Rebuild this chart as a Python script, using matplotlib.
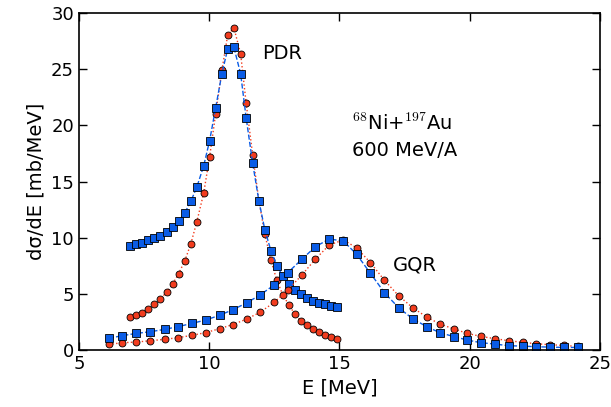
import matplotlib
matplotlib.use("Agg")
import matplotlib.pyplot as plt
plt.rcParams['mathtext.fontset'] = 'cm'

pdr_x = [6.96,7.18,7.41,7.66,7.89,8.12,8.37,8.60,8.83,9.07,9.30,9.53,9.79,10.02,10.25,10.49,10.71,10.95,11.21,11.42,11.67,11.91,12.14,12.37,12.60,12.83,13.07,13.29,13.52,13.76,13.99,14.22,14.45,14.68,14.91]
pdr_blue = [9.26,9.41,9.56,9.77,9.97,10.18,10.48,10.95,11.46,12.23,13.24,14.52,16.38,18.64,21.55,24.6,26.78,26.96,24.58,20.69,16.65,13.27,10.69,8.85,7.51,6.56,5.88,5.37,4.99,4.66,4.39,4.21,4.07,3.95,3.86]
pdr_red = [2.94,3.09,3.30,3.62,4.10,4.54,5.14,5.87,6.80,7.95,9.47,11.43,13.95,17.2,21.0,24.9,28.0,28.7,26.36,22.0,17.4,13.3,10.3,8.0,6.2,4.9,3.98,3.2,2.61,2.22,1.84,1.6,1.36,1.16,0.95]

gqr_x = [6.15,6.67,7.21,7.75,8.29,8.81,9.34,9.87,10.40,10.91,11.44,11.97,12.50,13.02,13.56,14.08,14.61,15.15,15.66,16.19,16.73,17.27,17.81,18.35,18.86,19.40,19.91,20.43,20.97,21.50,22.04,22.55,23.09,23.60,24.14]
gqr_blue = [1.04,1.28,1.48,1.63,1.84,2.08,2.37,2.67,3.09,3.59,4.19,4.93,5.79,6.89,8.08,9.2,9.88,9.71,8.52,6.83,5.1,3.77,2.79,2.08,1.54,1.19,0.89,0.65,0.53,0.38,0.35,0.29,0.26,0.23,0.23]
gqr_red = [0.5,0.65,0.71,0.83,0.95,1.1,1.31,1.55,1.9,2.27,2.75,3.38,4.25,5.34,6.68,8.1,9.35,9.8,9.1,7.78,6.2,4.84,3.77,2.94,2.31,1.87,1.48,1.21,1.01,0.83,0.68,0.56,0.47,0.41,0.32]

blue = "#0a5ce6"
red = "#f23c1e"

fig = plt.figure(figsize=(6.11, 4.07), dpi=100)
ax = fig.add_axes([0.129, 0.14, 0.853, 0.828])

for x, yb, yr in [(pdr_x, pdr_blue, pdr_red), (gqr_x, gqr_blue, gqr_red)]:
    ax.plot(x, yr, linestyle=":", color=red, lw=1, marker="o", ms=5,
            mfc=red, mec="black", mew=0.6)
    ax.plot(x, yb, linestyle="--", color=blue, lw=1, marker="s", ms=6,
            mfc=blue, mec="black", mew=0.6)

ax.set_xlim(5, 25)
ax.set_ylim(0, 30)
ax.set_xticks([5, 10, 15, 20, 25])
ax.set_yticks([0, 5, 10, 15, 20, 25, 30])
ax.tick_params(direction="in", top=True, right=True, labelsize=13, length=6, width=1)
for s in ax.spines.values():
    s.set_linewidth(1.2)
ax.set_xlabel("E [MeV]", fontsize=14)
ax.set_ylabel("dσ/dE [mb/MeV]", fontsize=14)

ax.text(12.05, 25.9, "PDR", fontsize=14)
ax.text(17.05, 7.1, "GQR", fontsize=14)
ax.text(15.5, 19.6, r"$^{68}$Ni+$^{197}$Au", fontsize=14)
ax.text(15.5, 17.3, "600 MeV/A", fontsize=14)

fig.savefig("out.png", dpi=100)
